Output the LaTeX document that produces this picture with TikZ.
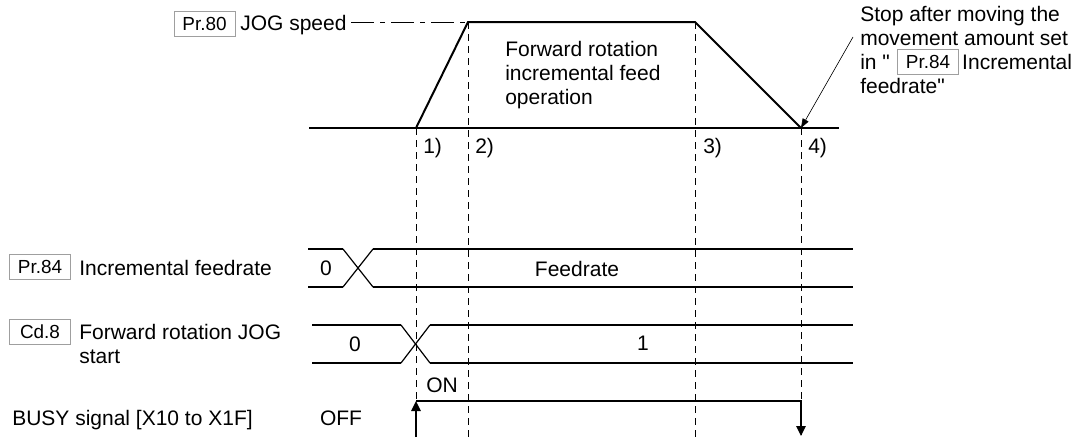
\documentclass[tikz,border=0pt]{standalone}
\usepackage{fontspec}
\setmainfont{Liberation Sans}[Ligatures=TeXOff]
\usetikzlibrary{arrows.meta,positioning}

\tikzset{
  prmbox/.style={draw=gray!75, line width=0.6pt, inner sep=0pt,
    minimum width=45.75pt, minimum height=18.75pt,
    font=\fontsize{14.2pt}{15pt}\selectfont},
  txt/.style={inner sep=0pt, font=\fontsize{15.75pt}{18pt}\selectfont},
  multi/.style={txt, align=left, anchor=north west},
  sig/.style={line width=1.5pt, line join=miter},
  cross/.style={line width=0.9pt},
  guide/.style={line width=0.7pt, dash pattern=on 5.25pt off 3.75pt},
}

\begin{document}
\begin{tikzpicture}[x=0.75pt, y=-0.75pt, >={Triangle[length=7.5pt,width=7pt]}]
    \useasboundingbox (0,0) rectangle (1084,437);

    % Speed pattern and its base line
    \coordinate (B0) at (309,128);
    \coordinate (B1) at (839,128);
    \coordinate (P1) at (416,128);
    \coordinate (P2) at (468,22);
    \coordinate (P3) at (695,22);
    \coordinate (P4) at (801,128);
    \draw[line width=1.1pt] (B0) -- (B1);
    \draw[sig] (P1) -- (P2) -- (P3) -- (P4);

    % JOG speed level
    \node[prmbox] (pr80) at (204.5,23.5) {Pr.80};
    \node[txt, anchor=base west] (jog) at (240,30.5) {JOG speed};
    \coordinate (J0) at (351,22);
    \draw[line width=0.75pt, dash pattern=on 17.25pt off 4.5pt on 3.75pt off 4.5pt] (J0) -- (P2);

    \node[multi] (fwd) at (505,41.5) {Forward rotation\\incremental feed\\operation};

    % Timing guides 1) to 4)
    \coordinate (G1) at (416,437);
    \coordinate (G2) at (468,437);
    \coordinate (G3) at (695,437);
    \coordinate (G4) at (801,437);
    \draw[guide] (P1) -- (G1);
    \draw[guide] (P2) -- (G2);
    \draw[guide] (P3) -- (G3);
    \draw[guide] (P4) -- (G4);
    \node[txt, anchor=base west] (t1) at (423,153.5) {1)};
    \node[txt, anchor=base west] (t2) at (475,153.5) {2)};
    \node[txt, anchor=base west] (t3) at (703,153.5) {3)};
    \node[txt, anchor=base west] (t4) at (808,153.5) {4)};

    % Stop note
    \node[txt, anchor=base west] (stopA) at (860,21.5) {Stop after moving the};
    \node[txt, anchor=base west] (stopB) at (860,45.5) {movement amount set};
    \node[txt, anchor=base west] (stopC) at (860,69.5) {in "};
    \node[prmbox, right=5.25pt of stopC] (pr84n) {Pr.84};
    \node[txt, right=2.25pt of pr84n] (stopE) {Incremental};
    \node[txt, anchor=base west] (stopD) at (860,93.5) {feedrate"};
    \coordinate (N0) at (853,37);
    \draw[line width=0.45pt, -{Triangle[length=7pt,width=5pt]}] (N0) -- (P4);

    % Pr.84 row
    \node[prmbox] (pr84) at (40,267) {Pr.84};
    \node[txt, anchor=base west] (incr) at (79,275.5) {Incremental feedrate};
    \coordinate (a0) at (308,249);
    \coordinate (a1) at (343,249);
    \coordinate (a2) at (373,287);
    \coordinate (a3) at (853,287);
    \coordinate (b0) at (308,287);
    \coordinate (b1) at (343,287);
    \coordinate (b2) at (373,249);
    \coordinate (b3) at (853,249);
    \draw[sig] (a0) -- (a1);
    \draw[cross] (a1) -- (a2);
    \draw[sig] (a2) -- (a3);
    \draw[sig] (b0) -- (b1);
    \draw[cross] (b1) -- (b2);
    \draw[sig] (b2) -- (b3);
    \node[txt] (zeroA) at (326,268) {0};
    \node[txt] (feed) at (577,269) {Feedrate};

    % Cd.8 row
    \node[prmbox] (cd8) at (40,332) {Cd.8};
    \node[multi] (jogst) at (79,324.5) {Forward rotation JOG\\start};
    \coordinate (c0) at (312,325);
    \coordinate (c1) at (401,325);
    \coordinate (c2) at (430,363);
    \coordinate (c3) at (853,363);
    \coordinate (d0) at (312,363);
    \coordinate (d1) at (401,363);
    \coordinate (d2) at (430,325);
    \coordinate (d3) at (853,325);
    \draw[sig] (c0) -- (c1);
    \draw[cross] (c1) -- (c2);
    \draw[sig] (c2) -- (c3);
    \draw[sig] (d0) -- (d1);
    \draw[cross] (d1) -- (d2);
    \draw[sig] (d2) -- (d3);
    \node[txt] (zeroB) at (355,344) {0};
    \node[txt] (one) at (643,343) {1};

    % BUSY signal
    \node[txt, anchor=base west] (busy) at (12,425.5) {BUSY signal [X10 to X1F]};
    \coordinate (y0) at (416,437);
    \coordinate (y1) at (416,401);
    \coordinate (y2) at (801,401);
    \coordinate (y3) at (801,436);
    \draw[sig, ->] (y0) -- (y1);
    \draw[sig, ->] (y1) -- (y2) -- (y3);
    \node[txt] (on) at (442,385) {ON};
    \node[txt] (off) at (341,418) {OFF};
\end{tikzpicture}
\end{document}
